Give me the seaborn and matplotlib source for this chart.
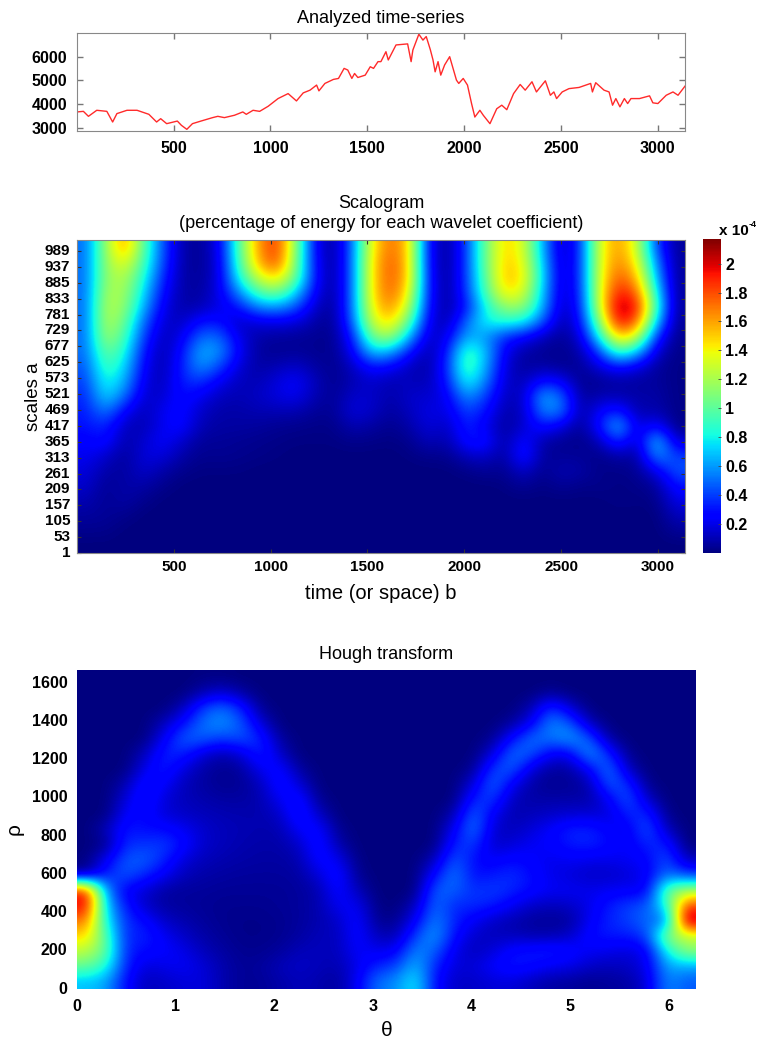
import numpy as np
import pandas as pd
import matplotlib
matplotlib.use('Agg')
import matplotlib.pyplot as plt
import seaborn as sns

# Time-series
series_t = [1, 34, 60, 103, 155, 185, 207, 259, 311, 372, 412, 433, 464, 519, 540, 568, 597, 641, 701, 728,
            762, 814, 857, 875, 910, 944, 988, 1039, 1091, 1134, 1169, 1204, 1238, 1250, 1281, 1325, 1351,
            1380, 1399, 1420, 1434, 1451, 1489, 1515, 1532, 1555, 1570, 1596, 1608, 1648, 1708, 1726, 1735,
            1766, 1787, 1804, 1825, 1839, 1850, 1865, 1879, 1899, 1925, 1960, 1972, 1995, 2017, 2038, 2055,
            2081, 2099, 2133, 2168, 2194, 2220, 2255, 2289, 2315, 2350, 2373, 2419, 2445, 2463, 2477, 2506,
            2541, 2593, 2653, 2662, 2679, 2722, 2748, 2766, 2783, 2804, 2827, 2844, 2861, 2905, 2957, 2974,
            3000, 3043, 3078, 3104, 3140]
series_v = [3665, 3690, 3480, 3735, 3690, 3240, 3595, 3735, 3735, 3565, 3240, 3380, 3170, 3280, 3100, 2930,
            3170, 3280, 3425, 3480, 3425, 3525, 3665, 3565, 3735, 3690, 3905, 4230, 4440, 4130, 4470, 4585,
            4800, 4555, 4870, 5040, 5080, 5505, 5435, 5080, 5290, 5120, 5220, 5575, 5505, 5790, 5790, 6210,
            5860, 6495, 6540, 5790, 6280, 6950, 6700, 6850, 6300, 5860, 5360, 5790, 5220, 5650, 6000, 5010,
            4870, 5080, 4800, 4020, 3450, 3735, 3520, 3170, 3800, 3950, 3760, 4440, 4825, 4585, 4940, 4510,
            4980, 4370, 4510, 4230, 4510, 4650, 4700, 4870, 4510, 4900, 4585, 4510, 3950, 4230, 3880, 4230,
            4020, 4230, 4230, 4345, 4050, 4020, 4370, 4510, 4370, 4755]

time_ticks = [500, 1000, 1500, 2000, 2500, 3000]
value_ticks = [3000, 4000, 5000, 6000]
scale_ticks = [1, 53, 105, 157, 209, 261, 313, 365, 417, 469, 521, 573, 625, 677, 729, 781, 833, 885, 937, 989]
cbar_ticks = [0.2, 0.4, 0.6, 0.8, 1, 1.2, 1.4, 1.6, 1.8, 2]
cbar_labels = ['0.2', '0.4', '0.6', '0.8', '1', '1.2', '1.4', '1.6', '1.8', '2']
theta_ticks = [0, 1, 2, 3, 4, 5, 6]
rho_ticks = [0, 200, 400, 600, 800, 1000, 1200, 1400, 1600]

# Scalogram, top row = largest scale, hundredths of 1e-4
scalogram = [
    [50, 115, 165, 100, 45, 8, 4, 20, 95, 160, 190, 115, 25, 3, 50, 140, 175, 150, 25, 3, 40, 105, 150, 135, 65, 10, 35, 135, 165, 130, 40, 5],
    [50, 115, 140, 95, 42, 8, 4, 18, 90, 155, 185, 110, 28, 3, 50, 145, 180, 150, 25, 3, 40, 105, 152, 140, 70, 12, 35, 135, 170, 140, 55, 5],
    [50, 115, 125, 85, 35, 8, 5, 18, 80, 130, 150, 105, 30, 3, 50, 145, 180, 150, 28, 3, 40, 100, 155, 145, 75, 12, 35, 135, 180, 155, 65, 5],
    [50, 120, 120, 75, 28, 8, 6, 20, 55, 95, 110, 75, 25, 3, 50, 145, 178, 140, 28, 4, 38, 95, 145, 135, 70, 12, 33, 135, 195, 175, 80, 5],
    [50, 125, 115, 65, 22, 8, 10, 20, 30, 55, 60, 45, 15, 3, 50, 140, 168, 125, 26, 5, 30, 80, 115, 115, 65, 10, 30, 130, 212, 195, 90, 5],
    [50, 125, 105, 50, 16, 12, 30, 30, 12, 18, 20, 18, 8, 3, 45, 130, 150, 100, 20, 8, 50, 80, 85, 80, 45, 7, 25, 110, 200, 175, 70, 4],
    [50, 120, 95, 40, 10, 20, 50, 50, 20, 8, 6, 5, 4, 3, 30, 105, 120, 65, 12, 20, 65, 60, 35, 25, 12, 4, 15, 80, 155, 130, 35, 3],
    [50, 105, 85, 30, 8, 28, 65, 60, 25, 6, 4, 5, 4, 3, 22, 70, 65, 30, 7, 30, 95, 70, 22, 8, 4, 3, 8, 40, 95, 70, 15, 2],
    [45, 95, 75, 25, 8, 32, 60, 42, 17, 7, 10, 15, 7, 3, 12, 30, 25, 12, 7, 35, 100, 65, 18, 5, 8, 4, 4, 18, 30, 20, 6, 2],
    [40, 85, 65, 20, 10, 33, 38, 22, 12, 10, 18, 25, 12, 3, 10, 15, 10, 12, 10, 30, 85, 55, 15, 10, 30, 25, 3, 4, 7, 6, 6, 2],
    [35, 75, 50, 15, 15, 30, 22, 12, 10, 13, 18, 22, 10, 4, 15, 15, 8, 15, 15, 22, 60, 40, 12, 12, 65, 50, 5, 10, 10, 8, 8, 2],
    [32, 55, 25, 10, 22, 28, 14, 8, 8, 10, 10, 10, 5, 4, 18, 14, 6, 12, 20, 18, 42, 30, 8, 12, 55, 55, 5, 25, 35, 8, 10, 2],
    [30, 35, 12, 10, 22, 28, 10, 7, 7, 6, 4, 3, 2, 2, 10, 7, 3, 8, 18, 12, 35, 22, 5, 15, 30, 20, 3, 30, 70, 15, 30, 2],
    [25, 30, 8, 15, 25, 15, 5, 5, 4, 3, 2, 1, 1, 1, 3, 2, 1, 3, 12, 8, 30, 32, 5, 30, 8, 4, 2, 10, 40, 10, 75, 15],
    [22, 15, 5, 18, 18, 8, 3, 4, 3, 2, 1, 0, 0, 0, 0, 0, 0, 1, 3, 3, 12, 15, 5, 35, 5, 5, 5, 2, 8, 5, 60, 40],
    [18, 8, 6, 15, 8, 3, 1, 1, 1, 0, 0, 0, 0, 0, 0, 0, 0, 0, 0, 0, 2, 5, 3, 15, 3, 10, 8, 2, 2, 4, 20, 45],
    [15, 4, 8, 8, 3, 0, 0, 0, 0, 0, 0, 0, 0, 0, 0, 0, 0, 0, 0, 0, 0, 0, 1, 5, 1, 5, 2, 3, 1, 2, 5, 30],
    [10, 4, 8, 3, 0, 0, 0, 0, 0, 0, 0, 0, 0, 0, 0, 0, 0, 0, 0, 0, 0, 0, 0, 0, 0, 0, 0, 0, 2, 1, 2, 20],
    [6, 5, 3, 0, 0, 0, 0, 0, 0, 0, 0, 0, 0, 0, 0, 0, 0, 0, 0, 0, 0, 0, 0, 0, 0, 0, 0, 0, 0, 0, 0, 12],
    [3, 3, 0, 0, 0, 0, 0, 0, 0, 0, 0, 0, 0, 0, 0, 0, 0, 0, 0, 0, 0, 0, 0, 0, 0, 0, 0, 0, 0, 0, 0, 5],
    [0, 0, 0, 0, 0, 0, 0, 0, 0, 0, 0, 0, 0, 0, 0, 0, 0, 0, 0, 0, 0, 0, 0, 0, 0, 0, 0, 0, 0, 0, 0, 0],
]

# Hough transform, top row = largest rho
hough = [
    [0, 0, 0, 0, 0, 0, 1, 1, 0, 0, 0, 0, 0, 0, 0, 0, 0, 0, 0, 0, 0, 0, 0, 0, 0, 0, 0, 0, 0, 0, 0, 0],
    [0, 0, 0, 0, 0, 0, 8, 15, 6, 0, 0, 0, 0, 0, 0, 0, 0, 0, 0, 0, 0, 0, 0, 0, 4, 0, 0, 0, 0, 0, 0, 0],
    [0, 0, 0, 0, 0, 10, 35, 45, 30, 3, 0, 0, 0, 0, 0, 0, 0, 0, 0, 0, 0, 0, 0, 8, 35, 15, 0, 0, 0, 0, 0, 0],
    [0, 0, 0, 0, 10, 25, 45, 52, 40, 15, 0, 0, 0, 0, 0, 0, 0, 0, 0, 0, 0, 0, 5, 20, 50, 40, 10, 0, 0, 0, 0, 0],
    [0, 0, 0, 0, 20, 42, 42, 35, 40, 30, 5, 0, 0, 0, 0, 0, 0, 0, 0, 0, 0, 3, 25, 45, 45, 55, 40, 5, 0, 0, 0, 0],
    [0, 0, 0, 10, 30, 30, 15, 8, 15, 32, 12, 0, 0, 0, 0, 0, 0, 0, 0, 0, 0, 15, 45, 40, 20, 20, 55, 30, 2, 0, 0, 0],
    [0, 0, 0, 18, 30, 16, 7, 3, 5, 20, 25, 5, 0, 0, 0, 0, 0, 0, 0, 0, 3, 35, 42, 15, 5, 6, 22, 48, 10, 0, 0, 0],
    [0, 0, 8, 28, 22, 10, 6, 3, 4, 10, 28, 15, 0, 0, 0, 0, 0, 0, 0, 0, 15, 45, 20, 6, 3, 4, 7, 42, 32, 2, 0, 0],
    [0, 0, 15, 30, 15, 10, 8, 6, 6, 8, 20, 28, 3, 0, 0, 0, 0, 0, 0, 0, 30, 35, 10, 7, 7, 7, 7, 20, 42, 12, 0, 0],
    [0, 0, 22, 25, 15, 12, 10, 9, 8, 8, 12, 30, 12, 0, 0, 0, 0, 0, 0, 8, 45, 20, 8, 10, 12, 14, 14, 15, 30, 32, 2, 0],
    [0, 10, 28, 25, 25, 20, 13, 10, 9, 8, 8, 22, 25, 3, 0, 0, 0, 0, 0, 20, 48, 13, 10, 15, 22, 30, 30, 22, 18, 42, 10, 0],
    [0, 2, 32, 33, 35, 25, 13, 10, 8, 7, 7, 12, 28, 8, 0, 0, 0, 0, 0, 30, 35, 12, 15, 20, 22, 28, 30, 25, 20, 30, 30, 0],
    [0, 20, 40, 42, 30, 15, 10, 8, 7, 6, 6, 8, 25, 20, 1, 0, 0, 0, 10, 42, 25, 20, 25, 22, 18, 20, 18, 18, 20, 22, 40, 10],
    [5, 30, 40, 30, 20, 10, 7, 6, 5, 5, 5, 6, 15, 28, 3, 0, 0, 0, 25, 48, 25, 28, 32, 25, 18, 15, 12, 12, 15, 20, 45, 35],
    [170, 50, 20, 15, 6, 5, 5, 4, 4, 4, 4, 5, 8, 25, 10, 0, 0, 0, 42, 42, 32, 35, 30, 25, 20, 20, 18, 20, 20, 20, 90, 105],
    [175, 60, 28, 12, 6, 5, 4, 3, 3, 3, 4, 5, 8, 20, 20, 1, 0, 10, 45, 30, 32, 28, 20, 12, 10, 12, 18, 28, 35, 40, 75, 160],
    [150, 70, 32, 25, 12, 8, 5, 3, 2, 2, 3, 5, 8, 12, 25, 3, 3, 20, 50, 30, 20, 12, 8, 5, 4, 5, 20, 30, 35, 45, 40, 190],
    [130, 85, 30, 30, 20, 12, 7, 4, 2, 2, 3, 6, 10, 10, 25, 10, 8, 35, 55, 25, 13, 10, 10, 8, 8, 12, 25, 28, 28, 35, 100, 110],
    [110, 90, 30, 25, 22, 18, 10, 6, 3, 3, 5, 10, 10, 10, 22, 18, 20, 50, 42, 18, 10, 15, 25, 28, 30, 25, 20, 18, 15, 20, 70, 100],
    [90, 75, 30, 15, 18, 20, 15, 8, 4, 5, 10, 12, 10, 8, 18, 30, 35, 60, 30, 15, 15, 22, 28, 25, 20, 18, 12, 10, 12, 18, 55, 55],
    [60, 55, 25, 10, 12, 15, 16, 8, 4, 4, 7, 10, 8, 5, 20, 45, 50, 70, 25, 12, 12, 15, 15, 10, 6, 5, 3, 5, 6, 15, 50, 40],
]

plt.rcParams['font.family'] = ['Liberation Sans', 'DejaVu Sans']
W, H = 757, 1042
fig = plt.figure(figsize=(W / 100, H / 100), dpi=100)


def px_axes(left, top, right, bottom):
    return fig.add_axes([left / W, 1 - bottom / H, (right - left) / W, (bottom - top) / H])


def bold_ticks(ax):
    for lab in ax.get_xticklabels() + ax.get_yticklabels():
        lab.set_fontweight('bold')


# Top panel
ax1 = px_axes(77, 33, 685, 131)
df = pd.DataFrame({'t': series_t, 'v': series_v})
sns.lineplot(data=df, x='t', y='v', color='#ff2a2a', linewidth=1.0, ax=ax1)
ax1.set_xlim(1, 3140)
ax1.set_ylim(2860, 7000)
ax1.set_xticks(time_ticks)
ax1.set_yticks(value_ticks)
ax1.set_xlabel('')
ax1.set_ylabel('')
ax1.tick_params(direction='in', length=4, width=1, color='#777777', top=True, right=True,
                labelsize=11.5, pad=7)
for s in ax1.spines.values():
    s.set_color('#888888')
bold_ticks(ax1)
ax1.set_title('Analyzed time-series', fontsize=13, pad=7)

# Scalogram
ax2 = px_axes(77, 240, 685, 553)
cax = px_axes(703, 239, 721, 553)
scal = np.array(scalogram) / 100
sns.heatmap(scal, cmap='jet', vmin=0, vmax=2.17, ax=ax2, cbar_ax=cax)
ax2.collections[0].set_visible(False)
ax2.imshow(scal, cmap='jet', vmin=0, vmax=2.17, interpolation='bicubic', aspect='auto',
           extent=(0, scal.shape[1], scal.shape[0], 0))
ax2.set_xlim(0, scal.shape[1])
ax2.set_ylim(scal.shape[0], 0)
ax2.set_xticks(np.array(time_ticks) * scal.shape[1] / 3140)
ax2.set_xticklabels(time_ticks, rotation=0)
ax2.set_yticks((1025 - np.array(scale_ticks)) * scal.shape[0] / 1024)
ax2.set_yticklabels(scale_ticks, rotation=0)
ax2.tick_params(direction='in', length=3, width=0.8, color='#333333', top=True, right=True,
                labelsize=11, pad=5)
bold_ticks(ax2)
ax2.set_xlabel('time (or space) b', fontsize=14.5, labelpad=7)
ax2.set_ylabel('scales a', fontsize=13.5, labelpad=2)
ax2.set_title('Scalogram\n(percentage of energy for each wavelet coefficient)', fontsize=13, pad=9)
for s in ax2.spines.values():
    s.set_visible(True)
    s.set_color('#888888')
cax.set_yticks(cbar_ticks)
cax.set_yticklabels(cbar_labels)
cax.tick_params(direction='in', length=2, width=0.6, color='#444444', labelsize=11.5, pad=3)
bold_ticks(cax)
fig.text(719 / W, 1 - 235 / H, 'x 10', fontsize=11, fontweight='bold', va='baseline')
fig.text(749 / W, 1 - 227 / H, '-4', fontsize=6.5, fontweight='bold', va='baseline')

# Hough transform, own colour range with no colorbar
ax3 = px_axes(77, 670, 696, 989)
hgh = np.array(hough) / 100
sns.heatmap(hgh, cmap='jet', vmin=0, vmax=1.9, ax=ax3, cbar=False)
ax3.collections[0].set_visible(False)
ax3.imshow(hgh, cmap='jet', vmin=0, vmax=1.9, interpolation='bicubic', aspect='auto',
           extent=(0, hgh.shape[1], hgh.shape[0], 0))
ax3.set_xlim(0, hgh.shape[1])
ax3.set_ylim(hgh.shape[0], 0)
ax3.set_xticks(np.array(theta_ticks) * hgh.shape[1] / 6.28)
ax3.set_xticklabels(theta_ticks, rotation=0)
ax3.set_yticks((1668 - np.array(rho_ticks)) * hgh.shape[0] / 1668)
ax3.set_yticklabels(rho_ticks, rotation=0)
ax3.tick_params(length=0, labelsize=11.5, pad=7)
bold_ticks(ax3)
ax3.set_xlabel('\u03b8', fontsize=15, labelpad=5)
ax3.set_ylabel('\u03c1', fontsize=15, labelpad=6)
ax3.set_title('Hough transform', fontsize=13, pad=8)

fig.savefig('out.png', dpi=100)
